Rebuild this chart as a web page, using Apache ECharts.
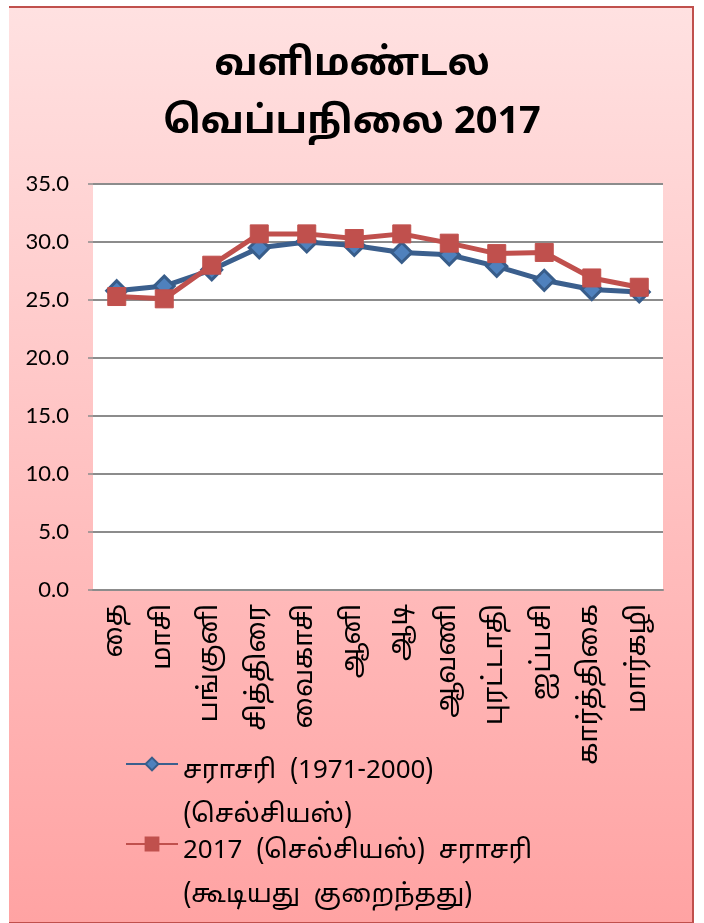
<!DOCTYPE html>
<html>
<head>
<meta charset="utf-8">
<script src="https://cdn.jsdelivr.net/npm/echarts@6/dist/echarts.min.js"></script>
<style>
  html, body { margin: 0; padding: 0; background: #fff; }
  #frame { position: absolute; left: 9px; top: 6px; width: 683px; height: 914px;
    border-top: 2px solid #c0504d; border-right: 2px solid #c0504d; border-bottom: 2px solid #c0504d;
    background: linear-gradient(to bottom, #ffe1e1 0%, #ffa3a3 100%); }
  #chart { position: absolute; left: 0; top: 0; width: 704px; height: 923px; }
</style>
</head>
<body>
<div id="frame"></div>
<div id="chart"></div>
<script>
const titleText = 'வளிமண்டல\nவெப்பநிலை 2017';
const categories = ['தை', 'மாசி', 'பங்குனி', 'சித்திரை', 'வைகாசி', 'ஆனி', 'ஆடி', 'ஆவணி', 'புரட்டாதி', 'ஐப்பசி', 'கார்த்திகை', 'மார்கழி'];
const seriesNames = ['சராசரி  (1971-2000)\n(செல்சியஸ்)', '2017  (செல்சியஸ்)  சராசரி\n(கூடியது  குறைந்தது)'];
const avg19712000 = [25.8, 26.2, 27.6, 29.5, 30.0, 29.7, 29.1, 28.9, 27.9, 26.7, 25.9, 25.7];
const avg2017 = [25.3, 25.1, 28.0, 30.7, 30.7, 30.3, 30.7, 29.9, 29.0, 29.1, 26.9, 26.1];
const yMin = 0, yMax = 35, yStep = 5;

const tamilFont = "'Noto Sans Tamil', 'Lohit Tamil', 'Noto Sans', sans-serif";
const legendRich = {
  s: { fontSize: 10, lineHeight: 62 },
  t: { fontSize: 26, lineHeight: 44, color: '#000', fontFamily: tamilFont }
};
const legendFormatter = name => {
  const parts = name.split('\n');
  return '{s| }\n' + parts.map(p => '{t|' + p + '}').join('\n');
};
const chart = echarts.init(document.getElementById('chart'), null, { renderer: 'canvas' });
chart.setOption({
  backgroundColor: 'transparent',
  animation: false,
  title: {
    text: titleText,
    left: 'center',
    top: 33,
    textStyle: { fontSize: 38, fontWeight: 'bold', color: '#000', lineHeight: 58, fontFamily: tamilFont }
  },
  legend: [
    {
      data: [seriesNames[0]],
      left: 125, top: 715, padding: 0,
      itemWidth: 52, itemHeight: 16, itemGap: 5,
      formatter: legendFormatter,
      textStyle: { rich: legendRich }
    },
    {
      data: [seriesNames[1]],
      left: 125, top: 795, padding: 0,
      itemWidth: 52, itemHeight: 16, itemGap: 5,
      formatter: legendFormatter,
      textStyle: { rich: legendRich }
    }
  ],
  grid: { left: 93, right: 41, top: 184, bottom: 333, show: true, backgroundColor: '#fff', borderWidth: 0, containLabel: false },
  xAxis: {
    type: 'category',
    data: categories,
    boundaryGap: true,
    axisLine: { lineStyle: { color: '#8c8c8c', width: 2 } },
    axisTick: { show: false },
    axisLabel: { rotate: 90, interval: 0, fontSize: 27, color: '#000', margin: 14, fontFamily: tamilFont }
  },
  yAxis: {
    type: 'value',
    min: yMin, max: yMax, interval: yStep,
    axisLine: { show: false },
    axisTick: { show: true, length: 5, lineStyle: { color: '#8c8c8c', width: 1.5 } },
    splitLine: { lineStyle: { color: '#8c8c8c', width: 2 } },
    axisLabel: { fontSize: 22, color: '#000', margin: 24, fontFamily: "Lato, 'Open Sans', sans-serif", formatter: v => v.toFixed(1) }
  },
  series: [
    {
      name: seriesNames[0],
      type: 'line',
      data: avg19712000,
      symbol: 'diamond',
      symbolSize: 20,
      lineStyle: { color: '#3b5f8d', width: 5 },
      itemStyle: { color: '#4f81bd', borderColor: '#385d8a', borderWidth: 3 },
      z: 2
    },
    {
      name: seriesNames[1],
      type: 'line',
      data: avg2017,
      symbol: 'rect',
      symbolSize: 18,
      lineStyle: { color: '#c0504d', width: 5 },
      itemStyle: { color: '#c0504d', borderColor: '#c0504d', borderWidth: 1 },
      z: 3
    }
  ]
});
</script>
</body>
</html>
